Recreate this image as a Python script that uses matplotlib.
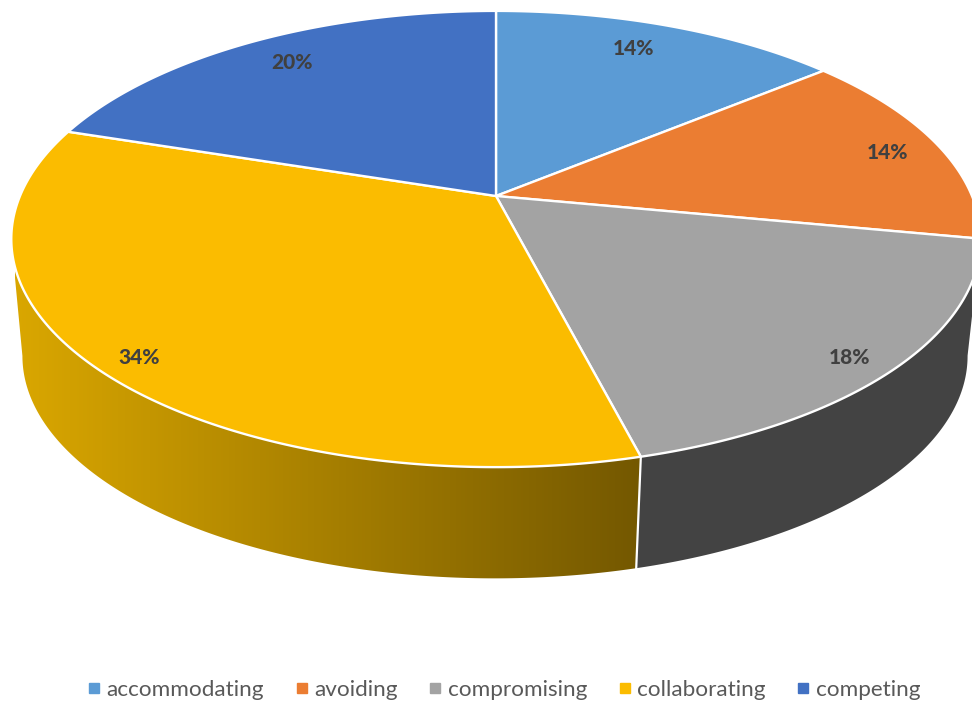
import numpy as np
import matplotlib
matplotlib.use('Agg')
import matplotlib.pyplot as plt
from matplotlib.lines import Line2D
from matplotlib.patches import Polygon

categorias = ['accommodating', 'avoiding', 'compromising', 'collaborating', 'competing']
valores = [14, 14, 18, 34, 20]
colores = ['#5B9BD5', '#EB7D32', '#A3A3A3', '#FBBC00', '#4271C3']

plt.rcParams['font.family'] = ['Lato', 'DejaVu Sans']

# Perspectiva del disco: centro, semiejes y fuerza de la deformacion (en pixeles)
cx, cy = 496, 196
a, b, k = 476, 220, 0.1886
prof_cx, prof_cy, prof_esc = 495, 314, 0.975


def proyecta(ang, r=1.0):
    # ang en grados, desde arriba y en sentido horario
    t = np.radians(ang)
    x = r * np.sin(t)
    y = -r * np.cos(t)
    d = 1 - k * y
    return a * x / d, b * y / d


def arriba(ang, r=1.0):
    u, v = proyecta(ang, r)
    return cx + u, cy + v


def abajo(ang):
    u, v = proyecta(ang)
    return prof_cx + prof_esc * u, prof_cy + prof_esc * v


def pared(a0, a1):
    angs = np.linspace(a0, a1, 200)
    xs, ys = arriba(angs)
    xb, yb = abajo(angs[::-1])
    return np.column_stack([np.r_[xs, xb], np.r_[ys, yb]])


fig = plt.figure(figsize=(9.72, 7.06), dpi=100)
ax = fig.add_axes([0, 0, 1, 1])

cortes = np.cumsum([0] + valores) / sum(valores) * 360
# angulo donde el disco llega a su borde izquierdo, de ahi en adelante la pared no se ve
tope_izq = 360 - np.degrees(np.arccos(-k))

# Pared gris oscura
ax.add_patch(Polygon(pared(cortes[2], cortes[3]), facecolor='#434343', edgecolor='none', zorder=1))

# Pared amarilla, se oscurece de izquierda a derecha
poly = Polygon(pared(cortes[3], min(cortes[4], tope_izq)), facecolor='none', edgecolor='none')
ax.add_patch(poly)
f = np.linspace(0, 1, 300)
izq = np.array([218, 167, 0])
der = np.array([116, 88, 0])
degradado = (izq + (der - izq) * f[:, None]).astype(np.uint8)[None, :, :]
img = ax.imshow(degradado, extent=(15, 640, 600, 200), aspect='auto', zorder=1)
img.set_clip_path(poly)

ax.set_xlim(0, 972)
ax.set_ylim(706, 0)
ax.axis('off')

# Borde blanco entre las dos paredes
x0, y0 = arriba(cortes[3])
x1, y1 = abajo(cortes[3])
ax.plot([x0, x1], [y0, y1], color='white', lw=1.6, zorder=2)

# Cara superior
for i in range(len(valores)):
    angs = np.linspace(cortes[i], cortes[i + 1], 200)
    xs, ys = arriba(angs)
    ax.fill(np.r_[cx, xs], np.r_[cy, ys], facecolor=colores[i], edgecolor='white',
            linewidth=1.7, joinstyle='round', zorder=3)

# Etiquetas de porcentaje
ajustes = [(-5, -7), (36, -1), (44, 27), (-47, 27), (-5, -7)]
for i, v in enumerate(valores):
    x, y = arriba((cortes[i] + cortes[i + 1]) / 2, 0.8)
    ax.text(x + ajustes[i][0], y + ajustes[i][1], f'{v}%', ha='center', va='center',
            fontsize=15, fontweight='black', color='#404040', zorder=4)

# Leyenda
marcas = [Line2D([], [], linestyle='none', marker='s', markersize=6.5, color=c) for c in colores]
ax.legend(marcas, categorias, loc='center', bbox_to_anchor=(501.5 / 972, 1 - 690 / 706), ncol=5,
          frameon=False, fontsize=16.2, labelcolor='#595959', handletextpad=0.05,
          columnspacing=1.18, handlelength=1.0)

fig.savefig('out.png', dpi=100)
